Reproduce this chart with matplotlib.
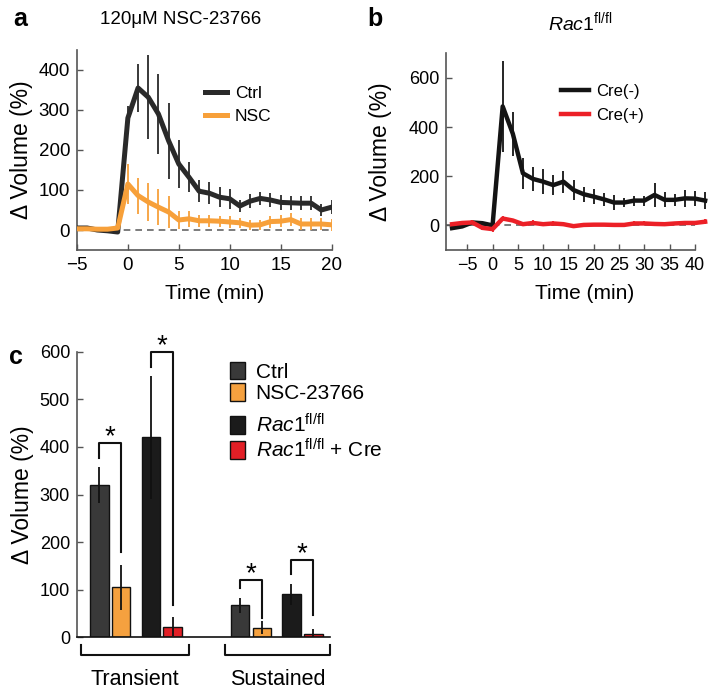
import numpy as np
import matplotlib
matplotlib.use("Agg")
import matplotlib.pyplot as plt
from matplotlib.lines import Line2D
from matplotlib.patches import Patch

plt.rcParams["font.family"] = ["Liberation Sans", "DejaVu Sans"]
plt.rcParams["mathtext.fontset"] = "custom"
plt.rcParams["mathtext.rm"] = "Liberation Sans"
plt.rcParams["mathtext.it"] = "Liberation Sans:italic"

# -----------------------------
# Panel a data: NSC-23766
# -----------------------------
time_a = list(range(-5, 21))
ctrl_mean = [5, 5, 0, -2, -5, 280, 355, 332, 290, 223, 165, 132, 97, 92, 82, 78,
             60, 72, 79, 75, 69, 68, 67, 67, 50, 57]
ctrl_err = [0, 0, 0, 0, 0, 30, 60, 105, 100, 95, 60, 38, 27, 28, 25, 25,
            15, 18, 17, 18, 18, 18, 18, 18, 15, 18]
nsc_mean = [3, 3, 2, 2, 5, 115, 86, 70, 57, 45, 25, 28, 23, 23, 22, 20,
            18, 12, 13, 21, 22, 26, 15, 15, 15, 13]
nsc_err = [0, 0, 0, 0, 0, 50, 45, 48, 45, 40, 22, 20, 15, 15, 14, 14,
           12, 12, 12, 15, 15, 16, 15, 15, 15, 15]

# -----------------------------
# Panel b data: Rac1 fl/fl
# -----------------------------
time_b = list(range(-8, 43, 2))
cre_neg_mean = [-11, -4, 12, 9, 0, 484, 373, 212, 189, 178, 164, 178, 144, 127,
                117, 106, 93, 93, 101, 101, 124, 104, 104, 110, 109, 101]
cre_neg_err = [0, 0, 0, 0, 0, 185, 90, 62, 50, 50, 40, 45, 40, 30,
               30, 25, 30, 20, 20, 20, 50, 30, 25, 35, 30, 35]
cre_pos_mean = [5, 10, 12, -10, -15, 28, 20, 5, 10, 5, 8, 5, -3, 2,
                3, 3, 2, 2, 8, 8, 6, 5, 8, 10, 10, 15]
cre_pos_err = [5, 8, 8, 8, 10, 10, 8, 8, 10, 8, 10, 8, 6, 6,
               6, 6, 6, 6, 8, 8, 8, 6, 6, 8, 8, 10]

# -----------------------------
# Panel c data: bar summary
# -----------------------------
bar_labels = ["Ctrl", "NSC-23766", r"$\mathit{Rac1}^{\mathrm{fl/fl}}$",
              r"$\mathit{Rac1}^{\mathrm{fl/fl}}$ + Cre"]
transient_mean = [320, 105, 420, 22]
transient_err = [38, 48, 130, 20]
sustained_mean = [67, 20, 90, 8]
sustained_err = [15, 14, 23, 9]
bar_colors = ["#393939", "#f5a13f", "#1b1b1b", "#e21f26"]

spine_col = "#555555"
dark = "#2a2a2a"
orange = "#f7a03a"
red = "#ec2027"

fig = plt.figure(figsize=(7.16, 6.96), dpi=100)


def style_axes(ax):
    for s in ["top", "right"]:
        ax.spines[s].set_visible(False)
    for s in ["left", "bottom"]:
        ax.spines[s].set_color(spine_col)
        ax.spines[s].set_linewidth(1.2)
    ax.tick_params(direction="in", length=4, color=spine_col, width=1.0)


# -----------------------------
# Panel a
# -----------------------------
ax_a = fig.add_axes([0.1075, 0.6408, 0.3555, 0.2874])
style_axes(ax_a)
ax_a.axhline(0, color="#666666", ls=(0, (4, 3)), lw=1.2, zorder=1)
ax_a.errorbar(time_a, ctrl_mean, yerr=ctrl_err, color=dark, lw=3.6,
              elinewidth=1.3, capsize=0, zorder=3)
ax_a.errorbar(time_a, nsc_mean, yerr=nsc_err, color=orange, lw=3.6,
              elinewidth=1.3, capsize=0, zorder=4)
ax_a.set_xlim(-5, 20)
ax_a.set_ylim(-50, 450)
ax_a.set_xticks([-5, 0, 5, 10, 15, 20])
ax_a.set_xticklabels(["\u22125", "0", "5", "10", "15", "20"])
ax_a.set_yticks([0, 100, 200, 300, 400])
ax_a.tick_params(labelsize=13.5, pad=5)
ax_a.set_xlabel("Time (min)", fontsize=15)
ax_a.xaxis.set_label_coords(0.54, -0.17)
ax_a.set_ylabel("\u0394 Volume (%)", fontsize=16.5, labelpad=4)
ax_a.legend(handles=[Line2D([], [], color=dark, lw=3.6),
                     Line2D([], [], color=orange, lw=3.6)],
            labels=["Ctrl", "NSC"], loc="upper left",
            bbox_to_anchor=(0.44, 0.90), frameon=False, fontsize=12.5,
            handlelength=1.3, handletextpad=0.45, labelspacing=0.45)
fig.text(0.252, 0.972, "120\u03bcM NSC-23766", fontsize=13.5,
         ha="center", va="center")
fig.text(0.018, 0.99, "a", fontsize=18, fontweight="bold", va="top")

# -----------------------------
# Panel b
# -----------------------------
ax_b = fig.add_axes([0.6229, 0.6408, 0.3478, 0.2826])
style_axes(ax_b)
ax_b.axhline(0, color="#666666", ls=(0, (4, 3)), lw=1.2, zorder=1)
ax_b.errorbar(time_b, cre_neg_mean, yerr=cre_neg_err, color="#141414", lw=3.2,
              elinewidth=1.3, capsize=0, zorder=3, clip_on=False)
ax_b.errorbar(time_b, cre_pos_mean, yerr=cre_pos_err, color=red, lw=3.2,
              elinewidth=1.3, capsize=0, zorder=4, clip_on=False)
ax_b.set_xlim(-9.2, 40)
ax_b.set_ylim(-100, 700)
ax_b.set_xticks([-5, 0, 5, 10, 15, 20, 25, 30, 35, 40])
ax_b.set_xticklabels(["\u22125", "0", "5", "10", "15", "20", "25", "30", "35", "40"])
ax_b.set_yticks([0, 200, 400, 600])
ax_b.tick_params(labelsize=13, pad=5)
ax_b.set_xlabel("Time (min)", fontsize=15)
ax_b.xaxis.set_label_coords(0.555, -0.175)
ax_b.set_ylabel("\u0394 Volume (%)", fontsize=16.5, labelpad=12)
ax_b.legend(handles=[Line2D([], [], color="#141414", lw=3.2),
                     Line2D([], [], color=red, lw=3.2)],
            labels=["Cre(-)", "Cre(+)"], loc="upper left",
            bbox_to_anchor=(0.40, 0.92), frameon=False, fontsize=12,
            handlelength=1.7, handletextpad=0.45, labelspacing=0.55)
fig.text(0.81, 0.968, r"$\mathit{Rac1}^{\mathrm{fl/fl}}$", fontsize=14,
         ha="center", va="center")
fig.text(0.513, 0.99, "b", fontsize=18, fontweight="bold", va="top")

# -----------------------------
# Panel c
# -----------------------------
ax_c = fig.add_axes([0.1075, 0.0843, 0.3534, 0.4103])
style_axes(ax_c)
ax_c.spines["bottom"].set_color("#111111")
ax_c.tick_params(axis="x", length=0, labelbottom=False)
pos_t = [1.2, 2.36, 3.96, 5.13]
pos_s = [8.73, 9.91, 11.48, 12.66]
for i in range(4):
    ax_c.bar(pos_t[i], transient_mean[i], width=1.0, color=bar_colors[i],
             edgecolor="#111111", lw=1.0, yerr=transient_err[i],
             error_kw=dict(elinewidth=1.3, ecolor="#111111", capsize=0), zorder=2)
    ax_c.bar(pos_s[i], sustained_mean[i], width=1.0, color=bar_colors[i],
             edgecolor="#111111", lw=1.0, yerr=sustained_err[i],
             error_kw=dict(elinewidth=1.3, ecolor="#111111", capsize=0), zorder=2)
ax_c.set_xlim(0, 13.55)
ax_c.set_ylim(0, 600)
ax_c.set_yticks([0, 100, 200, 300, 400, 500, 600])
ax_c.tick_params(axis="y", labelsize=13, pad=5)
ax_c.set_ylabel("\u0394 Volume (%)", fontsize=16.5, labelpad=4)


def sig_bracket(ax, x1, x2, y, y1, y2, star_y):
    ax.plot([x1, x1, x2, x2], [y1, y, y, y2], color="#111111", lw=1.5,
            clip_on=False, zorder=3)
    ax.text((x1 + x2) / 2, star_y, "*", ha="center", va="center",
            fontsize=20, clip_on=False)


sig_bracket(ax_c, pos_t[0], pos_t[1], 408, 376, 180, 420)
sig_bracket(ax_c, pos_t[2], pos_t[3], 600, 569, 68, 612)
sig_bracket(ax_c, pos_s[0], pos_s[1], 120, 103, 40, 132)
sig_bracket(ax_c, pos_s[2], pos_s[3], 162, 134, 47, 174)

# group brackets under the axis
for (x1, x2, name) in [(0.21, 6.0, "Transient"), (7.93, 13.55, "Sustained")]:
    ax_c.plot([x1, x1, x2, x2], [-16, -37, -37, -16], color="#111111", lw=1.5,
              clip_on=False)
    ax_c.text((x1 + x2) / 2, -88, name, ha="center", va="center", fontsize=15.5)

sq = dict(edgecolor="#111111", lw=1.0)
leg1 = ax_c.legend(handles=[Patch(facecolor=bar_colors[0], **sq),
                            Patch(facecolor=bar_colors[1], **sq)],
                   labels=bar_labels[:2], loc="upper left",
                   bbox_to_anchor=(0.57, 0.995), frameon=False, fontsize=15,
                   handlelength=0.75, handleheight=0.95, handletextpad=0.5,
                   labelspacing=0.05, borderaxespad=0)
ax_c.add_artist(leg1)
ax_c.legend(handles=[Patch(facecolor=bar_colors[2], **sq),
                     Patch(facecolor=bar_colors[3], **sq)],
            labels=bar_labels[2:], loc="upper left",
            bbox_to_anchor=(0.57, 0.815), frameon=False, fontsize=15,
            handlelength=0.75, handleheight=0.95, handletextpad=0.5,
            labelspacing=0.1, borderaxespad=0)
fig.text(0.012, 0.505, "c", fontsize=18, fontweight="bold", va="top")

fig.savefig("out.png", dpi=100)
